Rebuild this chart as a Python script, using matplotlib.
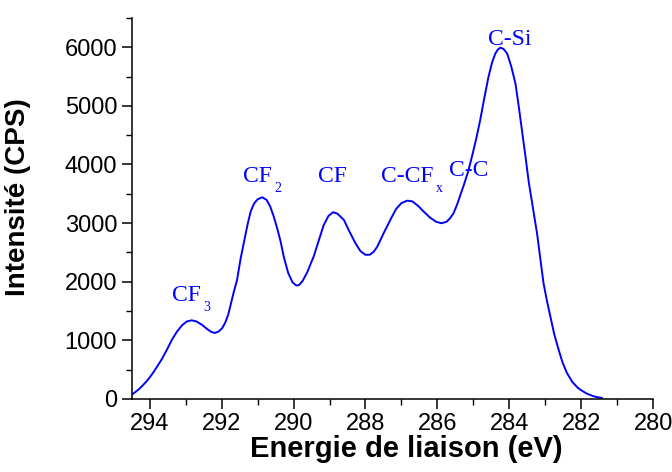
import matplotlib
matplotlib.use("Agg")
import matplotlib.pyplot as plt
from matplotlib.ticker import MultipleLocator

# Binding energy (eV) and intensity (CPS)
energy = [294.50, 294.40, 294.30, 294.20, 294.10, 294.00, 293.90, 293.80, 293.66, 293.52,
          293.38, 293.25, 293.10, 292.97, 292.83, 292.70, 292.55, 292.40, 292.28,
          292.19, 292.08, 291.98, 291.90, 291.82, 291.76, 291.68, 291.57, 291.47,
          291.35, 291.27, 291.19, 291.10, 291.00, 290.87, 290.75, 290.65, 290.55,
          290.45, 290.36, 290.27, 290.15, 290.03, 289.93, 289.85, 289.75, 289.62,
          289.50, 289.44, 289.30, 289.16, 289.03, 288.90, 288.78, 288.60, 288.45,
          288.28, 288.14, 288.00, 287.88, 287.77, 287.67, 287.50, 287.31, 287.15,
          287.00, 286.84, 286.70, 286.55, 286.38, 286.20, 286.03, 285.89, 285.75,
          285.65, 285.55, 285.45, 285.36, 285.27, 285.15, 285.04, 284.92, 284.81,
          284.70, 284.58, 284.48, 284.39, 284.32, 284.25, 284.16, 284.06, 283.95,
          283.83, 283.74, 283.65, 283.55, 283.46, 283.37, 283.30, 283.23, 283.14,
          283.05, 282.95, 282.86, 282.75, 282.63, 282.52, 282.40, 282.25, 282.10,
          282.03, 281.85, 281.66, 281.55, 281.43]
intensity = [70, 115, 165, 225, 290, 365, 450, 545, 680, 840,
             1010, 1140, 1255, 1320, 1340, 1320, 1265, 1190, 1140,
             1124, 1150, 1210, 1300, 1430, 1577, 1780, 2032, 2400,
             2760, 3000, 3200, 3330, 3405, 3440, 3395, 3285, 3110,
             2900, 2684, 2420, 2150, 1990, 1935, 1940, 2010, 2160,
             2340, 2428, 2700, 2968, 3120, 3185, 3160, 3053, 2860,
             2657, 2520, 2457, 2460, 2510, 2599, 2820, 3053, 3240,
             3340, 3382, 3370, 3300, 3195, 3090, 3020, 2997, 3020,
             3080, 3168, 3320, 3480, 3640, 3870, 4132, 4440, 4757,
             5120, 5494, 5740, 5892, 5960, 5994, 5970, 5892, 5680,
             5381, 5000, 4586, 4130, 3700, 3360, 3090, 2827, 2400,
             1975, 1660, 1407, 1100, 840, 620, 443, 290, 190,
             158, 90, 44, 28, 17]

# Peak annotations: main text, subscript, x position (eV), baseline y (CPS)
peak_main = ["CF", "CF", "CF", "C-CF", "C-C", "C-Si"]
peak_sub = ["3", "2", "", "x", "", ""]
peak_x = [293.38, 291.40, 289.31, 287.56, 285.69, 284.58]
peak_y = [1674, 3706, 3706, 3706, 3808, 6034]

plt.rcParams["font.family"] = ["Liberation Sans", "DejaVu Sans"]

fig = plt.figure(figsize=(6.72, 4.72), dpi=100)
ax = fig.add_axes([0.196, 0.155, 0.776, 0.807])

ax.plot(energy, intensity, color="#0000ff", lw=1.4)

ax.set_xlim(294.5, 280)
ax.set_ylim(0, 6500)
ax.xaxis.set_major_locator(MultipleLocator(2))
ax.xaxis.set_minor_locator(MultipleLocator(1))
ax.set_yticks([0, 1000, 2000, 3000, 4000, 5000, 6000])
ax.yaxis.set_minor_locator(MultipleLocator(500))

serif = ["Liberation Serif", "DejaVu Serif"]
for m, s, x, y in zip(peak_main, peak_sub, peak_x, peak_y):
    t = ax.text(x, y, m, color="#0000ff", fontsize=17, ha="left", va="baseline",
                family=serif)
    if s:
        ax.annotate(s, xy=(1.0, 0.0), xycoords=t, xytext=(1.5, -3.5),
                    textcoords="offset points", color="#0000ff", fontsize=10,
                    ha="left", va="baseline", family=serif)

for s in ["top", "right"]:
    ax.spines[s].set_visible(False)
for s in ["left", "bottom"]:
    ax.spines[s].set_linewidth(1.1)

ax.tick_params(which="major", direction="out", length=7, width=1.1, labelsize=17)
ax.tick_params(which="minor", direction="out", length=4, width=1.0)

ax.set_xlabel("Energie de liaison (eV)", fontsize=21, fontweight="bold")
ax.xaxis.set_label_coords(0.527, -0.095)
ax.set_ylabel("Intensité (CPS)", fontsize=20, fontweight="bold")
ax.yaxis.set_label_coords(-0.193, 0.53)

fig.savefig("out.png", dpi=100)
